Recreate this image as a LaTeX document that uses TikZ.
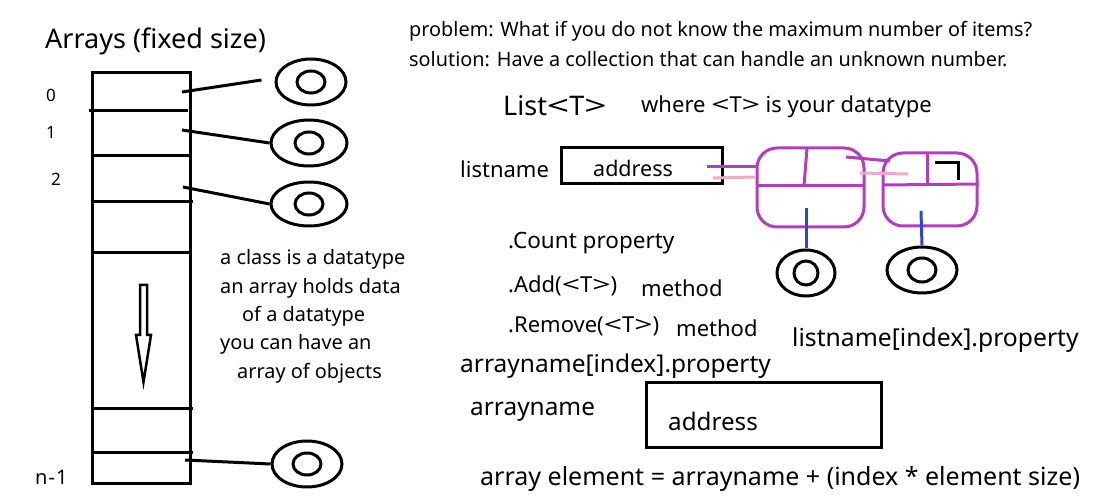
\documentclass[tikz,border=0pt]{standalone}
\usepackage{fontspec}
\usepackage{graphicx}
\setmainfont{Noto Sans}
\usetikzlibrary{shapes.geometric}
\definecolor{mag}{RGB}{178,62,190}
\definecolor{pinkl}{RGB}{244,168,200}
\definecolor{bluel}{RGB}{52,68,204}
\newcommand\myLT{\scalebox{1.45}[1]{<}}
\newcommand\myGT{\scalebox{1.45}[1]{>}}
\newcommand\fs[1]{\fontsize{#1}{#1}\selectfont}
\begin{document}
\begin{tikzpicture}[x=1pt,y=-1pt,
  txt/.style={anchor=west,inner sep=0pt,yshift=-1.5pt},
  blk/.style={line width=3pt,black},
  outerobj/.style={ellipse,draw,line width=3pt,inner sep=0pt},
  innerobj/.style={ellipse,draw,line width=3pt,inner sep=0pt},
  lnode/.style={draw=mag,line width=3pt,rounded corners=20pt,inner sep=0pt},
  magline/.style={mag,line width=3pt},
  pinkline/.style={pinkl,line width=3pt},
  blueline/.style={bluel,line width=3pt},
  box/.style={draw,line width=3pt,inner sep=0pt}
]
\useasboundingbox (0,0) rectangle (1096,502);
% Array
\node[txt,font=\fs{27}] (title) at (45,40) {Arrays (fixed size)};
\node[box,minimum width=98pt,minimum height=411pt] (arr) at (141,278) {};
\draw[blk] (89,111) -- (188,111);
\draw[blk] (92,156) -- (190,156);
\draw[blk] (94,202) -- (193,202);
\draw[blk] (92,253) -- (190,253);
\draw[blk] (92,409) -- (193,409);
\draw[blk] (92,453) -- (193,453);
\node[txt,font=\fs{17}] (i0) at (46,94) {0};
\node[txt,font=\fs{17}] (i1) at (46,131) {1};
\node[txt,font=\fs{17}] (i2) at (51,178) {2};
\node[txt,font=\fs{20}] (in) at (35,476) {n{\kern1pt}-{\kern1pt}1};
% hollow arrow
\draw[line width=2.5pt,line join=miter] (140,285) -- (147,285) -- (147,335) -- (151,335) -- (143.5,382) -- (136,335) -- (140,335) -- cycle;
% objects
\foreach \n/\x/\y/\rx/\ry in {e0/311/82/35/23, e1/309/143/38/23, e2/309/204/38/22, e3/307/464/35/23}{
  \node[outerobj,minimum width=2*\rx pt,minimum height=2*\ry pt] (\n) at (\x,\y) {};
  \node[innerobj,minimum width=28pt,minimum height=22pt] (\n i) at (\x,\y) {};
}
\coordinate (c0) at (182,92);
\coordinate (c1) at (182,130);
\coordinate (c2) at (183,187);
\coordinate (c3) at (185,460);
\draw[blk] (c0) -- ([shift={(-13,-2)}]e0.west);
\draw[blk] (c1) -- (e1.west);
\draw[blk] (c2) -- (e2.west);
\draw[blk] (c3) -- (e3.west);
% notes
\node[txt,font=\fs{19.9}] (n1) at (220,258) {a class is a datatype};
\node[txt,font=\fs{19.9}] (n2) at (220,287) {an array holds data};
\node[txt,font=\fs{19.9}] (n3) at (242,315) {of a datatype};
\node[txt,font=\fs{19.9}] (n4) at (220,343) {you can have an};
\node[txt,font=\fs{19.9}] (n5) at (237,372) {array of objects};
% right side
\node[txt,font=\fs{19.85}] (p) at (409,30) {problem: What if you do not know the maximum number of items?};
\node[txt,font=\fs{19.85}] (s) at (409,58) {solution: Have a collection that can handle an unknown number.};
\node[txt,font=\fs{27}] (list) at (503,104) {List\myLT T\myGT};
\node[txt,font=\fs{22}] (where) at (641,105) {where \myLT T\myGT{} is your datatype};
\node[txt,font=\fs{22}] (ln) at (460,168) {listname};
\node[box,minimum width=161pt,minimum height=36pt] (b1) at (641.5,166) {};
\node[txt,font=\fs{21.5}] (a1) at (593,167) {address};
% linked nodes
\node[lnode,minimum width=107pt,minimum height=79pt] (L1) at (810.5,187.5) {};
\node[lnode,minimum width=94pt,minimum height=73pt] (L2) at (930,189.5) {};
\draw[magline] (757,186) -- (864,186);
\draw[magline] (807,148) -- (804,186);
\draw[magline] (883,185) -- (979,184);
\draw[magline] (927,152) -- (927,185);
\draw[line width=3pt,black] (935,163) -- (958,163) -- (958,180);
\draw[magline] (707,167) -- (L1.west |- 0,167);
\draw[pinkline] (713,178) -- (755,177);
\draw[magline] (846,157) -- (890,161);
\draw[pinkline] (860,173) -- (908,174);
\node[outerobj,minimum width=58pt,minimum height=46pt] (f1) at (806,273) {};
\node[innerobj,minimum width=24pt,minimum height=24pt] (f1i) at (806,273) {};
\node[outerobj,minimum width=70pt,minimum height=46pt] (f2) at (922,270) {};
\node[innerobj,minimum width=28pt,minimum height=24pt] (f2i) at (922,270) {};
\draw[blueline] (806,208) -- (f1.north);
\draw[blueline] (921,211) -- (f2.north);
% methods
\node[txt,font=\fs{22.5}] (cnt) at (508,242) {.Count property};
\node[txt,font=\fs{22}] (add) at (508,284) {.Add(\myLT T\myGT)};
\node[txt,font=\fs{22}] (m1) at (641,287) {method};
\node[txt,font=\fs{22}] (rem) at (508,325) {.Remove(\myLT T\myGT)};
\node[txt,font=\fs{22}] (m2) at (676,327) {method};
\node[txt,font=\fs{24.7}] (lip) at (792,339) {listname[index].property};
\node[txt,font=\fs{24.5}] (aip) at (460,365) {arrayname[index].property};
\node[txt,font=\fs{24.4}] (an) at (470,410) {arrayname};
\node[box,minimum width=235pt,minimum height=65pt] (b2) at (763.5,415.5) {};
\node[txt,font=\fs{24.2}] (a2) at (668,420) {address};
\node[txt,font=\fs{25}] (ae) at (480,478) {array element = arrayname + (index * element size)};
\end{tikzpicture}
\end{document}
